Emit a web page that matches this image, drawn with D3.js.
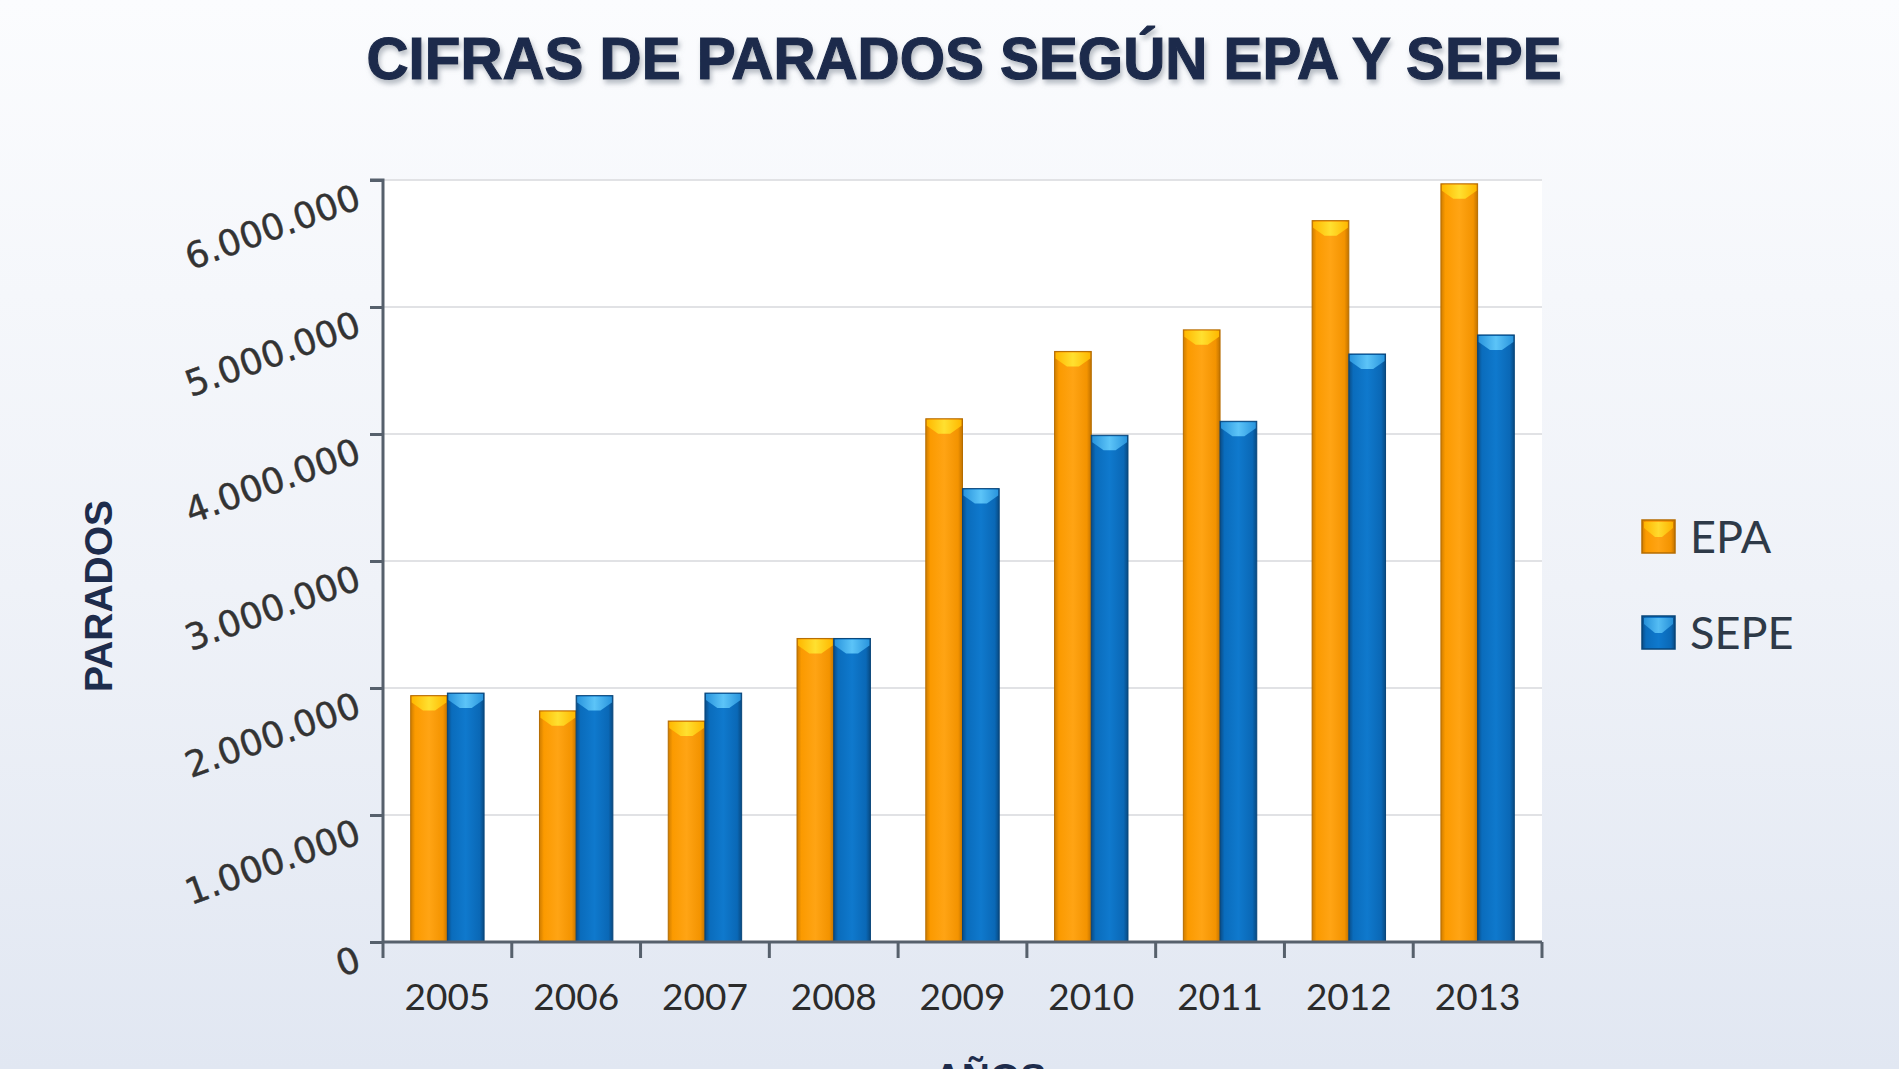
<!DOCTYPE html>
<html>
<head>
<meta charset="utf-8">
<script src="https://cdn.jsdelivr.net/npm/d3@7"></script>
<style>
  body { margin: 0; overflow: hidden; }
</style>
</head>
<body>
<script>
// datos (parados)
const years = ['2005', '2006', '2007', '2008', '2009', '2010', '2011', '2012', '2013']
const epa = [1940000, 1820000, 1740000, 2390000, 4120000, 4650000, 4820000, 5680000, 5970000]
const sepe = [1960000, 1940000, 1960000, 2390000, 3570000, 3990000, 4100000, 4630000, 4780000]
const seriesNames = ['EPA', 'SEPE']
const yTicks = [0, 1000000, 2000000, 3000000, 4000000, 5000000, 6000000]

const W = 1899, H = 1069
const plot = { left: 383, right: 1542, top: 180, bottom: 942 }

const es = d3.formatLocale({ decimal: ',', thousands: '.', grouping: [3], currency: ['', ' €'] })
const fmt = es.format(',d')

const svg = d3.select('body').append('svg').attr('width', W).attr('height', H)
const defs = svg.append('defs')

// fondo
const bg = defs.append('linearGradient').attr('id', 'bg').attr('x1', 0).attr('x2', 0).attr('y1', 0).attr('y2', 1)
bg.append('stop').attr('offset', '0%').attr('stop-color', '#fbfcfe')
bg.append('stop').attr('offset', '55%').attr('stop-color', '#eff2f8')
bg.append('stop').attr('offset', '100%').attr('stop-color', '#e1e7f2')
svg.append('rect').attr('width', W).attr('height', H).attr('fill', 'url(#bg)')

// degradados de las barras
let barGrad = (id, stops) => {
    const g = defs.append('linearGradient').attr('id', id).attr('x1', 0).attr('x2', 1).attr('y1', 0).attr('y2', 0)
    stops.forEach(s => g.append('stop').attr('offset', s[0]).attr('stop-color', s[1]))
}
barGrad('gEPA', [['0%', '#cf7d00'], ['12%', '#fb9a00'], ['50%', '#ffa414'], ['88%', '#f39300'], ['100%', '#c27300']])
barGrad('gSEPE', [['0%', '#0a4c86'], ['12%', '#0a6cbc'], ['50%', '#0f79cd'], ['88%', '#0a68b6'], ['100%', '#084a82']])
barGrad('cEPA', [['0%', '#ffb800'], ['50%', '#ffe030'], ['100%', '#ffb800']])
barGrad('cSEPE', [['0%', '#2a95dd'], ['50%', '#5cc4f8'], ['100%', '#2a95dd']])

const colors = { EPA: { body: 'url(#gEPA)', cap: 'url(#cEPA)', stroke: '#b56c00' },
                 SEPE: { body: 'url(#gSEPE)', cap: 'url(#cSEPE)', stroke: '#07457a' } }

const shadow = defs.append('filter').attr('id', 'tshadow').attr('x', '-5%').attr('y', '-30%').attr('width', '110%').attr('height', '170%')
shadow.append('feDropShadow').attr('dx', 2).attr('dy', 4).attr('stdDeviation', 2.5).attr('flood-color', '#7f8894').attr('flood-opacity', 0.55)

// escalas
const x = d3.scaleBand().domain(years).range([plot.left, plot.right]).padding(0)
const x1 = d3.scaleBand().domain(seriesNames).range([x.bandwidth() * 0.215, x.bandwidth() * 0.785]).padding(0)
const y = d3.scaleLinear().domain([0, 6000000]).range([plot.bottom, plot.top])

// area del grafico
svg.append('rect').attr('x', plot.left).attr('y', plot.top)
    .attr('width', plot.right - plot.left).attr('height', plot.bottom - plot.top).attr('fill', '#ffffff')

svg.append('g').selectAll('line').data(yTicks.slice(1)).join('line')
    .attr('x1', plot.left).attr('x2', plot.right)
    .attr('y1', d => y(d)).attr('y2', d => y(d))
    .attr('stroke', '#e1e2e5').attr('stroke-width', 2)

// barras
const rows = years.map((yr, i) => ({ year: yr, EPA: epa[i], SEPE: sepe[i] }))
const groups = svg.append('g').selectAll('g').data(rows).join('g')
    .attr('transform', d => 'translate(' + x(d.year) + ',0)')

const bars = groups.selectAll('g').data(d => seriesNames.map(k => ({ key: k, value: d[k] }))).join('g')
bars.append('rect')
    .attr('x', d => x1(d.key)).attr('width', x1.bandwidth())
    .attr('y', d => y(d.value)).attr('height', d => y(0) - y(d.value))
    .attr('fill', d => colors[d.key].body)
    .attr('stroke', d => colors[d.key].stroke).attr('stroke-width', 1)
bars.append('path')
    .attr('d', d => {
        const x0 = x1(d.key) + 1, xe = x1(d.key) + x1.bandwidth() - 1, t = y(d.value) + 1
        const c = (x0 + xe) / 2
        return 'M' + x0 + ',' + t + 'L' + xe + ',' + t + 'L' + xe + ',' + (t + 6) +
            'L' + (c + 6) + ',' + (t + 14) + 'L' + (c - 6) + ',' + (t + 14) + 'L' + x0 + ',' + (t + 6) + 'Z'
    })
    .attr('fill', d => colors[d.key].cap)

// eje Y
const yAxis = svg.append('g').attr('transform', 'translate(' + plot.left + ',0)')
    .call(d3.axisLeft(y).tickValues(yTicks).tickSize(13).tickFormat(fmt))
yAxis.select('.domain').attr('stroke', '#56606c').attr('stroke-width', 3).attr('d', 'M-13,' + plot.top + 'H0V' + plot.bottom)
yAxis.selectAll('.tick line').attr('stroke', '#56606c').attr('stroke-width', 3)
yAxis.selectAll('.tick text')
    .attr('x', null).attr('dy', null)
    .attr('text-anchor', 'end')
    .attr('transform', 'translate(-20,27) rotate(-20)')
    .attr('font-family', 'DejaVu Sans').attr('font-size', 36).attr('fill', '#333333')
    .attr('stroke', '#333333').attr('stroke-width', 0.4)

// eje X
const xAxis = svg.append('g').attr('transform', 'translate(0,' + plot.bottom + ')')
    .call(d3.axisBottom(x).tickSize(0))
xAxis.select('.domain').attr('stroke', '#56606c').attr('stroke-width', 3).attr('d', 'M' + plot.left + ',0H' + plot.right)
xAxis.selectAll('.tick text').attr('y', 68).attr('dy', null)
    .attr('font-family', 'Lato').attr('font-size', 37).attr('fill', '#2b2b2b')
const bounds = years.map(d => x(d)).concat([plot.right])
xAxis.append('g').selectAll('line').data(bounds).join('line')
    .attr('x1', d => d).attr('x2', d => d).attr('y1', 0).attr('y2', 16)
    .attr('stroke', '#56606c').attr('stroke-width', 3)

// titulos
svg.append('text').attr('x', 964).attr('y', 79).attr('text-anchor', 'middle')
    .attr('font-family', 'Liberation Sans').attr('font-weight', 'bold').attr('font-size', 60)
    .attr('textLength', 1195).attr('lengthAdjust', 'spacingAndGlyphs')
    .attr('fill', '#1e2c4c').attr('stroke', '#1e2c4c').attr('stroke-width', 1.2)
    .attr('filter', 'url(#tshadow)')
    .text('CIFRAS DE PARADOS SEGÚN EPA Y SEPE')

svg.append('text').attr('transform', 'translate(112,596) rotate(-90)').attr('text-anchor', 'middle')
    .attr('font-family', 'Liberation Sans').attr('font-weight', 'bold').attr('font-size', 39)
    .attr('fill', '#1e2c4c').text('PARADOS')

svg.append('text').attr('x', 990).attr('y', 1091).attr('text-anchor', 'middle')
    .attr('font-family', 'Liberation Sans').attr('font-weight', 'bold').attr('font-size', 39)
    .attr('fill', '#1e2c4c').text('AÑOS')

// leyenda
const legend = svg.append('g').selectAll('g').data(seriesNames).join('g')
    .attr('transform', (d, i) => 'translate(1642,' + (520 + i * 96) + ')')
legend.append('rect').attr('width', 33).attr('height', 33)
    .attr('fill', d => colors[d].body).attr('stroke', d => colors[d].stroke).attr('stroke-width', 1.5)
legend.append('path').attr('d', 'M2,2H31V8L20,17H13L2,8Z').attr('fill', d => colors[d].cap).attr('opacity', 0.9)
legend.append('text').attr('x', 48).attr('y', 33)
    .attr('font-family', 'Lato').attr('font-size', 45).attr('fill', '#2e3a48')
    .text(d => d)
</script>
</body>
</html>
